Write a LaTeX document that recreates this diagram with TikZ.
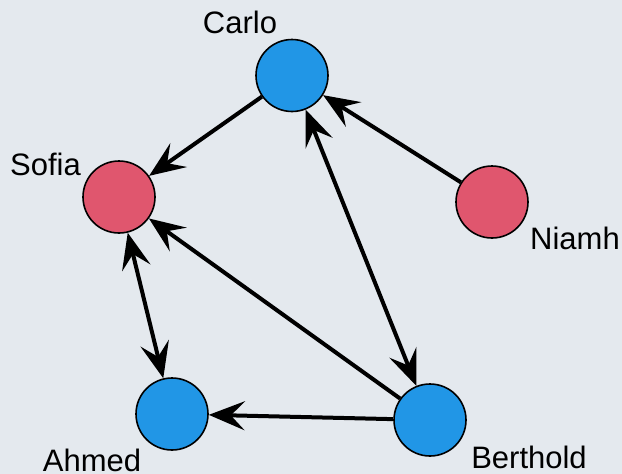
\documentclass[tikz,border=0pt]{standalone}
\usepackage{fontspec}
\setmainfont{Liberation Sans}
\usetikzlibrary{arrows.meta}
\definecolor{bg}{HTML}{E4E9EE}
\definecolor{nblue}{HTML}{2196E6}
\definecolor{nred}{HTML}{E0566E}
\tikzset{
  vtx/.style={circle, draw=black, line width=1.6pt, minimum size=72pt, inner sep=0pt},
  bluev/.style={vtx, fill=nblue},
  redv/.style={vtx, fill=nred},
  lbl/.style={anchor=base, inner sep=0pt, font=\fontsize{31}{37}\selectfont},
  edge/.style={line width=4pt, -{Stealth[length=36pt, width=29pt, inset=14pt]}},
  bedge/.style={line width=4pt, {Stealth[length=36pt, width=29pt, inset=14pt]}-{Stealth[length=36pt, width=29pt, inset=14pt]}}
}
\begin{document}
\begin{tikzpicture}[x=1pt, y=-1pt]
\fill[bg] (0,0) rectangle (622,474);
\useasboundingbox (0,0) rectangle (622,474);
\node[bluev] (carlo) at (292,75.5) {};
\node[redv] (sofia) at (119,197) {};
\node[redv] (niamh) at (492,202) {};
\node[bluev] (ahmed) at (172,414) {};
\node[bluev] (berthold) at (430,420) {};
\node[lbl] (lc) at (240,33) {Carlo};
\node[lbl] (ls) at (45.5,175) {Sofia};
\node[lbl] (ln) at (575,249) {Niamh};
\node[lbl] (la) at (92,471) {Ahmed};
\node[lbl] (lb) at (529,468) {Berthold};
\draw[edge] (carlo) -- (sofia);
\draw[edge] (niamh) -- (carlo);
\draw[bedge] (carlo) -- (berthold);
\draw[edge] (berthold) -- (sofia);
\draw[bedge] (sofia) -- (ahmed);
\draw[edge] (berthold) -- (ahmed);
\end{tikzpicture}
\end{document}
